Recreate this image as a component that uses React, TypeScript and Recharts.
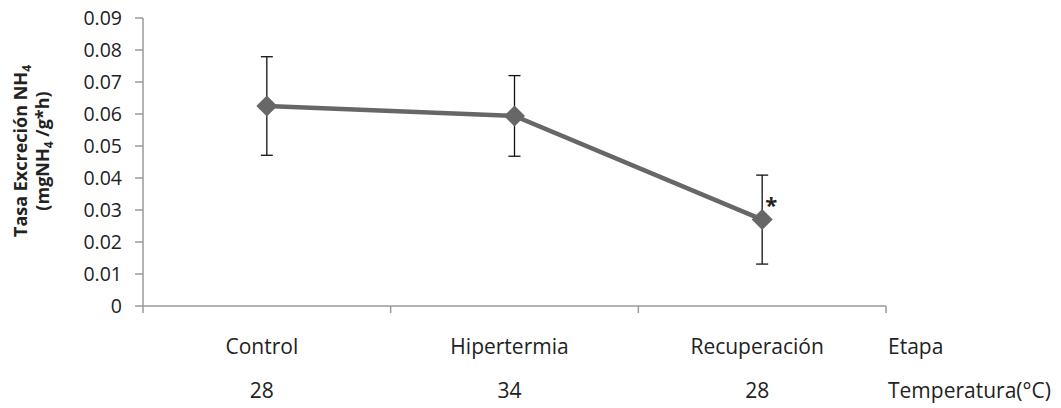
import React from "react";
import { LineChart, Line, XAxis, YAxis, ErrorBar, LabelList } from "recharts";

// Stage names and water temperature for each stage
const stages = ["Control", "Hipertermia", "Recuperación"];
const temperatures = ["28", "34", "28"];
const rowTitles = ["Etapa", "Temperatura(°C)"];

// NH4 excretion rate (mean) and its standard deviation per stage
const excretionRate = [0.0625, 0.0594, 0.027];
const excretionSd = [0.0154, 0.0126, 0.0139];
const significance = ["", "", "*"];

const yTicks = [0, 0.01, 0.02, 0.03, 0.04, 0.05, 0.06, 0.07, 0.08, 0.09];

const data = stages.map((stage, i) => ({
  x: i + 0.5,
  stage,
  rate: excretionRate[i],
  sd: excretionSd[i],
  sig: significance[i],
}));

const FONT = "'Open Sans', sans-serif";
const TEXT = "#222222";
const AXIS = "#9a9a9a";
const SERIES = "#676767";

const xTicks = [0, 0.5, 1, 1.5, 2, 2.5, 3];

const CategoryTick = (props: any) => {
  const { x, y, payload } = props;
  const v = payload.value as number;
  if (Number.isInteger(v)) {
    return (
      <g>
        <line x1={x} y1={y} x2={x} y2={y + 7} stroke={AXIS} strokeWidth={1.5} />
        {v === stages.length && (
          <g fontFamily={FONT} fontSize={21} fill={TEXT}>
            <text x={x + 2} y={y + 48} textAnchor="start">{rowTitles[0]}</text>
            <text x={x + 2} y={y + 92} textAnchor="start">{rowTitles[1]}</text>
          </g>
        )}
      </g>
    );
  }
  const idx = Math.floor(v);
  return (
    <g fontFamily={FONT} fontSize={21} fill={TEXT}>
      <text x={x - 5} y={y + 48} textAnchor="middle">{stages[idx]}</text>
      <text x={x - 5} y={y + 92} textAnchor="middle">{temperatures[idx]}</text>
    </g>
  );
};

const Diamond = (props: any) => {
  const { cx, cy } = props;
  if (cx == null || cy == null) return null;
  const r = 10.5;
  return (
    <polygon
      points={`${cx},${cy - r} ${cx + r},${cy} ${cx},${cy + r} ${cx - r},${cy}`}
      fill={SERIES}
      stroke="none"
    />
  );
};

const SigMark = (props: any) => {
  const { x, y, value } = props;
  if (!value) return null;
  return (
    <text x={x + 9} y={y - 7} textAnchor="middle" fontFamily={FONT} fontSize={22} fontWeight={700} fill="#222">
      {value}
    </text>
  );
};

const YTitle = (props: any) => {
  const { viewBox } = props;
  const cy = viewBox.y + viewBox.height / 2 - 11;
  return (
    <g fontFamily={FONT} fontSize={18} fontWeight={700} fill={TEXT}>
      <text transform={`translate(27, ${cy}) rotate(-90)`} textAnchor="middle">
        Tasa Excreción NH<tspan fontSize={12} dy={4}>4</tspan>
      </text>
      <text transform={`translate(49, ${cy}) rotate(-90)`} textAnchor="middle">
        (mgNH<tspan fontSize={12} dy={4}>4</tspan>
        <tspan dy={-4}> /g*h)</tspan>
      </text>
    </g>
  );
};

export default function App() {
  return (
    <div style={{ position: "absolute", left: 0, top: 0, background: "#fff" }}>
      <LineChart
        width={1061}
        height={408}
        data={data}
        margin={{ top: 18, right: 175, bottom: 0, left: 0 }}
      >
        <XAxis
          dataKey="x"
          type="number"
          domain={[0, 3]}
          ticks={xTicks}
          interval={0}
          height={102}
          tickLine={false}
          tickSize={0}
          tickMargin={0}
          axisLine={{ stroke: AXIS, strokeWidth: 1.5 }}
          tick={<CategoryTick />}
        />
        <YAxis
          type="number"
          domain={[0, 0.09]}
          ticks={yTicks}
          interval={0}
          width={143}
          tickSize={8}
          tickMargin={13}
          axisLine={{ stroke: AXIS, strokeWidth: 1.5 }}
          tickLine={{ stroke: AXIS, strokeWidth: 1.5 }}
          tick={{ fontFamily: FONT, fontSize: 19.5, fill: TEXT }}
          tickFormatter={(v: number) => (v === 0 ? "0" : v.toFixed(2))}
          label={<YTitle />}
        />
        <Line
          dataKey="rate"
          stroke={SERIES}
          strokeWidth={4.5}
          dot={<Diamond />}
          activeDot={false}
          isAnimationActive={false}
        >
          <ErrorBar dataKey="sd" direction="y" width={6} stroke="#111" strokeWidth={1.3} />
          <LabelList dataKey="sig" content={<SigMark />} />
        </Line>
      </LineChart>
    </div>
  );
}
